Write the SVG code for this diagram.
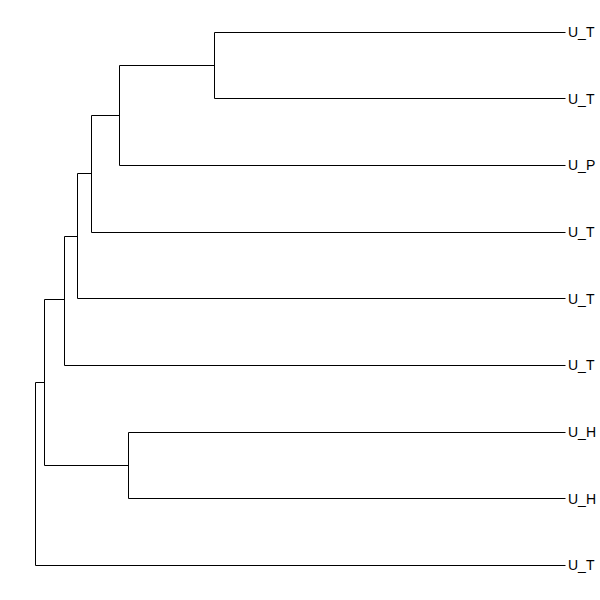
<svg xmlns="http://www.w3.org/2000/svg" width="600" height="600" viewBox="0 0 600 600">
<style>
.e{fill:none;stroke:#000;stroke-width:1}
.t{font-family:"Liberation Sans",Arial,sans-serif;font-size:14px;fill:#000}
</style>
<rect width="600" height="600" fill="#fff"/>
<g id="connectors">
<path class="e" d="M214.5,32.5H565.5M214.5,98.5H565.5M214.5,32.5V98.5"/>
<path class="e" d="M119.5,65.5H214.5M119.5,165.5H565.5M119.5,65.5V165.5"/>
<path class="e" d="M91.5,115.5H119.5M91.5,232.5H565.5M91.5,115.5V232.5"/>
<path class="e" d="M77.5,173.5H91.5M77.5,298.5H565.5M77.5,173.5V298.5"/>
<path class="e" d="M64.5,236.5H77.5M64.5,365.5H565.5M64.5,236.5V365.5"/>
<path class="e" d="M128.5,432.5H565.5M128.5,498.5H565.5M128.5,432.5V498.5"/>
<path class="e" d="M44.5,299.5H64.5M44.5,465.5H128.5M44.5,299.5V465.5"/>
<path class="e" d="M35.5,382.5H44.5M35.5,565.5H565.5M35.5,382.5V565.5"/>
</g>
<g id="leaf1"><text class="t" x="568" y="37">U_T</text></g>
<g id="leaf2"><text class="t" x="568" y="104">U_T</text></g>
<g id="leaf3"><text class="t" x="568" y="170">U_P</text></g>
<g id="leaf4"><text class="t" x="568" y="237">U_T</text></g>
<g id="leaf5"><text class="t" x="568" y="304">U_T</text></g>
<g id="leaf6"><text class="t" x="568" y="370">U_T</text></g>
<g id="leaf7"><text class="t" x="568" y="437">U_H</text></g>
<g id="leaf8"><text class="t" x="568" y="504">U_H</text></g>
<g id="leaf9"><text class="t" x="568" y="570">U_T</text></g>
</svg>
